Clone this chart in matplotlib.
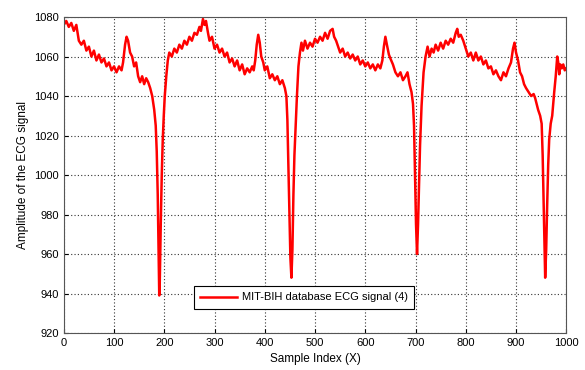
import matplotlib
matplotlib.use('Agg')
import matplotlib.pyplot as plt

# sample index / amplitude
idx = [0, 5, 10, 15, 20, 25, 30, 35, 40, 45, 50, 55, 60, 65, 70, 75, 80, 85, 90, 95,
       100, 105, 110, 115, 118, 122, 125, 128, 132, 136, 140, 144, 148, 152, 156, 160,
       164, 168, 172, 176, 180, 183, 185, 187, 189, 190, 191, 193, 195, 197, 199, 201,
       204, 207, 210, 215, 220, 225, 230, 235, 240, 245, 250, 255, 260, 265, 270, 273,
       277, 280, 283, 287, 290, 295, 300, 305, 310, 315, 320, 325, 330, 335, 340, 345,
       350, 355, 360, 365, 370, 375, 378, 381, 384, 387, 390, 393, 397, 400, 405, 410,
       415, 420, 425, 430, 435, 440, 443, 445, 447, 449, 451, 453, 455, 457, 459, 461,
       464, 467, 470, 473, 476, 480, 485, 490, 495, 500, 505, 510, 515, 520, 525, 530,
       535, 538, 542, 546, 550, 555, 560, 565, 570, 575, 580, 585, 590, 595, 600, 605,
       610, 615, 620, 625, 630, 634, 637, 640, 643, 647, 650, 655, 660, 665, 670, 675,
       680, 684, 688, 692, 695, 697, 699, 701, 703, 705, 707, 709, 712, 716, 720, 724,
       728, 732, 736, 740, 745, 750, 755, 760, 765, 770, 775, 780, 783, 786, 790, 795,
       800, 805, 810, 815, 820, 825, 830, 835, 840, 845, 850, 855, 860, 865, 870, 875,
       880, 885, 890, 894, 897, 900, 904, 908, 912, 916, 920, 925, 930, 935, 938, 941,
       944, 948, 951, 953, 955, 957, 958, 960, 962, 964, 966, 969, 972, 976, 979, 982,
       984, 986, 988, 991, 994, 997, 1000]
amp = [1076, 1078, 1075, 1077, 1073, 1076, 1068, 1066, 1068, 1063, 1065, 1060, 1063, 1058, 1061, 1057, 1059, 1055, 1057, 1053,
       1055, 1052, 1055, 1053, 1057, 1066, 1070, 1068, 1062, 1060, 1055, 1057, 1050, 1047, 1050, 1046,
       1049, 1047, 1044, 1040, 1033, 1025, 1012, 990, 955, 939, 945, 975, 1000, 1018, 1030, 1040,
       1050, 1058, 1062, 1060, 1064, 1062, 1066, 1064, 1068, 1066, 1070, 1068, 1072, 1071, 1075, 1073,
       1079, 1076, 1078, 1072, 1068, 1070, 1064, 1066, 1062, 1064, 1060, 1062, 1057, 1059, 1055, 1058,
       1053, 1056, 1051, 1054, 1052, 1055, 1053, 1058, 1066, 1071, 1067, 1060, 1057, 1053, 1055, 1049,
       1051, 1048, 1050, 1046, 1048, 1044, 1040, 1028, 1005, 980, 958, 948, 962, 990, 1010, 1022,
       1040, 1055, 1062, 1067, 1063, 1068, 1064, 1067, 1065, 1069, 1067, 1070, 1068, 1072, 1069, 1073,
       1074, 1070, 1068, 1065, 1062, 1064, 1060, 1062, 1059, 1061, 1058, 1060, 1056, 1058, 1055, 1057,
       1054, 1056, 1053, 1056, 1054, 1058, 1065, 1070, 1066, 1061, 1059, 1056, 1052, 1050, 1052, 1048,
       1050, 1052, 1046, 1042, 1036, 1025, 1000, 975, 960, 975, 996, 1015, 1035, 1052, 1060, 1065,
       1060, 1064, 1062, 1066, 1063, 1067, 1064, 1068, 1066, 1069, 1067, 1072, 1074, 1070, 1071, 1068,
       1064, 1060, 1062, 1058, 1062, 1058, 1060, 1056, 1058, 1054, 1055, 1051, 1053, 1050, 1048, 1052,
       1050, 1054, 1057, 1064, 1067, 1062, 1058, 1052, 1050, 1046, 1044, 1042, 1040, 1041, 1039, 1036,
       1033, 1030, 1026, 1010, 985, 958, 948, 962, 985, 1005, 1018, 1026, 1030, 1042, 1050, 1060,
       1057, 1051, 1056, 1054, 1056, 1053, 1054]

xticks = [0, 100, 200, 300, 400, 500, 600, 700, 800, 900, 1000]
yticks = [920, 940, 960, 980, 1000, 1020, 1040, 1060, 1080]

plt.rcParams['font.family'] = ['Liberation Sans', 'DejaVu Sans']

fig = plt.figure(figsize=(5.85, 3.7), dpi=100)
ax = fig.add_axes([0.109, 0.10, 0.859, 0.854])
ax.plot(idx, amp, color='red', lw=1.8, label='MIT-BIH database ECG signal (4)')

ax.set_xlim(0, 1000)
ax.set_ylim(920, 1080)
ax.set_xticks(xticks)
ax.set_yticks(yticks)
ax.tick_params(direction='in', labelsize=8, length=3)
ax.grid(True, color='#333333', linestyle=(0, (1, 2)), lw=0.8)
for s in ax.spines.values():
    s.set_color('#555555')

ax.set_xlabel('Sample Index (X)', fontsize=8.5)
ax.set_ylabel('Amplitude of the ECG signal', fontsize=8.5)

leg = ax.legend(loc='lower center', bbox_to_anchor=(0.478, 0.058), fontsize=8,
                fancybox=False, framealpha=1, edgecolor='black', handlelength=3.3,
                handletextpad=0.4, borderpad=0.6)
leg.get_frame().set_linewidth(0.8)

fig.savefig('out.png', dpi=100)
